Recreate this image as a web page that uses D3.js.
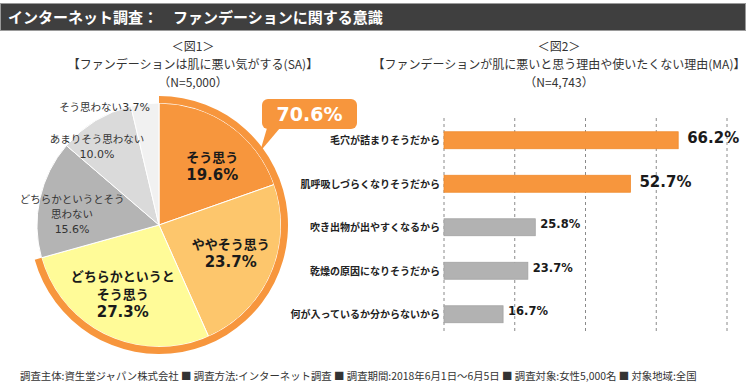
<!DOCTYPE html>
<html>
<head>
<meta charset="utf-8">
<script src="https://cdn.jsdelivr.net/npm/d3@7"></script>
<style>
  html, body { margin: 0; padding: 0; background: #fff; }
  svg { display: block; }
  .jp { font-family: "Noto Sans CJK JP", "Noto Sans", sans-serif; }
  .num { font-family: "DejaVu Sans", "Noto Sans CJK JP", sans-serif; }
</style>
</head>
<body>
<div id="chart"></div>
<script>
// データ
var pieLabels = ['そう思う', 'ややそう思う', 'どちらかというとそう思う', 'どちらかというとそう思わない', 'あまりそう思わない', 'そう思わない'];
var pieLines = [['そう思う'], ['ややそう思う'], ['どちらかというと', 'そう思う'], ['どちらかというとそう', '思わない'], ['あまりそう思わない'], []];
var pieValues = [19.6, 23.7, 27.3, 15.6, 10.0, 3.7];
var pieColors = ['#f7963d', '#fdc66c', '#fffb98', '#b4b4b4', '#dadada', '#f1f1f1'];
var agreeTotal = '70.6%';

var barLabels = ['毛穴が詰まりそうだから', '肌呼吸しづらくなりそうだから', '吹き出物が出やすくなるから', '乾燥の原因になりそうだから', '何が入っているか分からないから'];
var barValues = [66.2, 52.7, 25.8, 23.7, 16.7];
var barTicks = [0, 20, 40, 60, 80];

var fig1Title = ['＜図1＞', '【ファンデーションは肌に悪い気がする(SA)】', '（N=5,000）'];
var fig2Title = ['＜図2＞', '【ファンデーションが肌に悪いと思う理由や使いたくない理由(MA)】', '（N=4,743）'];
var headerText = 'インターネット調査：　ファンデーションに関する意識';
var footerText = '調査主体:資生堂ジャパン株式会社 ■ 調査方法:インターネット調査 ■ 調査期間:2018年6月1日～6月5日 ■ 調査対象:女性5,000名 ■ 対象地域:全国';

// 画布
var width = 750, height = 386;
var svg = d3.select('#chart').append('svg')
  .attr('width', width)
  .attr('height', height);

// ヘッダー
svg.append('rect')
  .attr('x', 0.5).attr('y', 3.5)
  .attr('width', 745).attr('height', 27)
  .attr('fill', '#3f3f3f')
  .attr('stroke', '#9a9a9a');
svg.append('text')
  .attr('class', 'jp')
  .attr('x', 8).attr('y', 23)
  .attr('fill', '#fff')
  .style('font-size', '15px')
  .style('font-weight', 'bold')
  .text(headerText);

// タイトル
function drawTitle(lines, cx) {
  var ys = [51, 69, 87];
  lines.forEach(function(t, i) {
    svg.append('text')
      .attr('class', 'jp')
      .attr('x', cx).attr('y', ys[i])
      .attr('text-anchor', 'middle')
      .attr('fill', '#333')
      .style('font-size', '12px')
      .text(t);
  });
}
drawTitle(fig1Title, 193);
drawTitle(fig2Title, 559);

// 円グラフ
var cx = 159, cy = 225, r = 122;
var pie = d3.pie().sort(null).value(function(d) { return d; });
var arcs = pie(pieValues);
var arc = d3.arc().innerRadius(0).outerRadius(r);
var gPie = svg.append('g').attr('transform', 'translate(' + cx + ',' + cy + ')');

gPie.selectAll('path.slice')
  .data(arcs)
  .enter()
  .append('path')
  .attr('class', 'slice')
  .attr('d', arc)
  .attr('fill', function(d, i) { return pieColors[i]; })
  .attr('stroke', '#fff')
  .attr('stroke-width', 1);

// 「そう思う」計のふち
var agreeEnd = arcs[2].endAngle;
gPie.append('path')
  .attr('d', d3.arc().innerRadius(r).outerRadius(r + 7).startAngle(0).endAngle(agreeEnd)())
  .attr('fill', '#f7963d');

// ラベル
var labelRadius = [80, 77, 78, 88, 100, 120];
var labelNudge = [[7, 6], [1, -2], [-3, -2], [-1, 8], [-10, 7], [5, 1]];
arcs.forEach(function(d, i) {
  var la = d3.arc().innerRadius(labelRadius[i]).outerRadius(labelRadius[i]);
  var c = la.centroid(d);
  var x = c[0] + labelNudge[i][0], y = c[1] + labelNudge[i][1];
  var pct = d3.format('.1f')(pieValues[i]) + '%';
  if (i < 3) {
    var lines = pieLines[i].concat([pct]);
    var step = 18;
    var y0 = y - (lines.length - 1) * step / 2;
    lines.forEach(function(t, j) {
      var isNum = j == lines.length - 1;
      gPie.append('text')
        .attr('class', isNum ? 'num' : 'jp')
        .attr('x', x).attr('y', y0 + j * step + 5)
        .attr('text-anchor', 'middle')
        .attr('fill', '#1a1a1a')
        .style('font-size', isNum ? '15px' : '13px')
        .style('font-weight', 'bold')
        .text(t);
    });
  } else if (i < 5) {
    var lines2 = pieLines[i].concat([pct]);
    var step2 = 15;
    var y1 = y - (lines2.length - 1) * step2 / 2;
    lines2.forEach(function(t, j) {
      var isNum = j == lines2.length - 1;
      gPie.append('text')
        .attr('class', isNum ? 'num' : 'jp')
        .attr('x', x).attr('y', y1 + j * step2 + 4)
        .attr('text-anchor', 'middle')
        .attr('fill', '#333')
        .style('font-size', isNum ? '11px' : '10.5px')
        .text(t);
    });
  } else {
    var t5 = gPie.append('text')
      .attr('x', x).attr('y', y + 4)
      .attr('text-anchor', 'end')
      .attr('fill', '#333');
    t5.append('tspan').attr('class', 'jp').style('font-size', '10.5px').text(pieLabels[i]);
    t5.append('tspan').attr('class', 'num').style('font-size', '11px').text(pct);
  }
});

// 吹き出し
var tipAngle = 54 * Math.PI / 180;
var tipX = cx + Math.sin(tipAngle) * (r + 3);
var tipY = cy - Math.cos(tipAngle) * (r + 3);
var box = {x: 262, y: 99, w: 95, h: 30};
svg.append('rect')
  .attr('x', box.x).attr('y', box.y)
  .attr('width', box.w).attr('height', box.h)
  .attr('rx', 6)
  .attr('fill', '#f7963d');
svg.append('path')
  .attr('d', 'M' + (box.x + 5) + ',' + (box.y + box.h - 1) + 'L' + (box.x + 18) + ',' + (box.y + box.h - 1) + 'L' + tipX + ',' + tipY + 'Z')
  .attr('fill', '#f7963d');
svg.append('text')
  .attr('class', 'num')
  .attr('x', box.x + box.w / 2).attr('y', box.y + 22)
  .attr('text-anchor', 'middle')
  .attr('fill', '#fff')
  .style('font-size', '19px')
  .style('font-weight', 'bold')
  .text(agreeTotal);

// 棒グラフ
var barX = d3.scaleLinear()
  .domain([0, 80])
  .range([444, 727]);
var barY = d3.scaleBand()
  .domain(barLabels)
  .range([118.5, 336])
  .paddingInner(0.61)
  .paddingOuter(0.305);

// 目盛線
svg.append('g')
  .selectAll('line')
  .data(barTicks)
  .enter()
  .append('line')
  .attr('x1', function(d) { return barX(d); })
  .attr('x2', function(d) { return barX(d); })
  .attr('y1', 118).attr('y2', 334)
  .attr('stroke', '#8a8a8a')
  .attr('stroke-dasharray', '3,3');

svg.append('g')
  .selectAll('rect.bar')
  .data(barValues)
  .enter()
  .append('rect')
  .attr('class', 'bar')
  .attr('x', barX(0))
  .attr('y', function(d, i) { return barY(barLabels[i]); })
  .attr('width', function(d) { return barX(d) - barX(0); })
  .attr('height', barY.bandwidth())
  .attr('fill', function(d, i) { return i < 2 ? '#f7963d' : '#b2b2b2'; })
  .attr('stroke', function(d, i) { return i < 2 ? '#f08a2c' : '#a3a3a3'; })
  .attr('stroke-width', 0.8);

// 項目名
svg.append('g')
  .selectAll('text')
  .data(barLabels)
  .enter()
  .append('text')
  .attr('class', 'jp')
  .attr('x', 440)
  .attr('y', function(d) { return barY(d) + barY.bandwidth() / 2 + 4; })
  .attr('text-anchor', 'end')
  .attr('fill', '#222')
  .style('font-size', '10px')
  .style('font-weight', 'bold')
  .text(function(d) { return d; });

// 数値
svg.append('g')
  .selectAll('text')
  .data(barValues)
  .enter()
  .append('text')
  .attr('class', 'num')
  .attr('x', function(d) { return barX(d) + (d > 50 ? 9 : 5); })
  .attr('y', function(d, i) { return barY(barLabels[i]) + barY.bandwidth() / 2 + (d > 50 ? 3 : 1); })
  .attr('fill', '#1a1a1a')
  .style('font-size', function(d) { return d > 50 ? '15px' : '11.5px'; })
  .style('font-weight', 'bold')
  .text(function(d) { return d3.format('.1f')(d) + '%'; });

// 注記
svg.append('text')
  .attr('class', 'jp')
  .attr('x', 20).attr('y', 380)
  .attr('fill', '#333')
  .style('font-size', '10.4px')
  .text(footerText);
</script>
</body>
</html>
